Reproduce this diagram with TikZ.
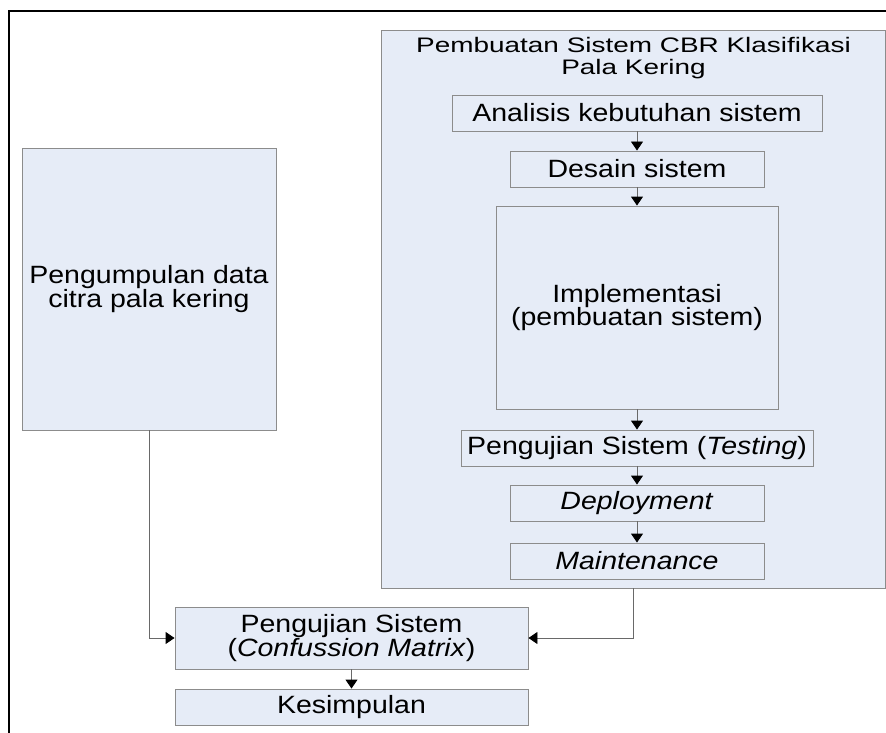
\documentclass[tikz,border=0pt]{standalone}
\usepackage{fontspec}
\setmainfont{Liberation Sans}[FakeStretch=1.14]
\newfontfamily\judulfont{Liberation Sans}[FakeStretch=1.33]
\usetikzlibrary{arrows.meta}
\definecolor{isi}{RGB}{230,236,247}
\definecolor{garis}{RGB}{140,140,140}
\definecolor{garispanah}{RGB}{105,105,105}

\begin{document}
\begin{tikzpicture}[x=1pt,y=-1pt,
        kotak/.style={draw=garis,fill=isi,line width=0.9pt,inner sep=0pt,align=center,
            font=\fontsize{25}{23.5}\selectfont},
        panah/.style={draw=garispanah,line width=0.9pt,
            -{Triangle[width=12pt,length=9pt,color=black]}}]
        \useasboundingbox (0,0) rectangle (886,733);
        % Frame
        \draw[line width=2.5pt] (9,733) -- (9,11) -- (886,11);
        % Pembuatan sistem CBR
        \node[kotak,minimum width=504pt,minimum height=558pt] (sistem) at (633,309) {};
        \node[font=\judulfont\fontsize{21}{22}\selectfont,align=center] (judul) at (633.5,58) {Pembuatan Sistem CBR Klasifikasi\\Pala Kering};
        \node[kotak,minimum width=370pt,minimum height=36pt] (analisis) at (637,113) {Analisis kebutuhan sistem};
        \node[kotak,minimum width=254pt,minimum height=36pt] (desain) at (637,169) {Desain sistem};
        \node[kotak,minimum width=282pt,minimum height=203pt] (implementasi) at (637,307.5) {Implementasi\\(pembuatan sistem)};
        \node[kotak,minimum width=352pt,minimum height=36pt] (testing) at (637,448) {Pengujian Sistem (\textit{Testing})};
        \node[kotak,minimum width=254pt,minimum height=36pt] (deploy) at (637,503) {\textit{Deployment}};
        \node[kotak,minimum width=254pt,minimum height=36pt] (maint) at (637,561) {\textit{Maintenance}};
        \draw[panah] (analisis) -- (desain);
        \draw[panah] (desain) -- (implementasi);
        \draw[panah] (implementasi) -- (testing);
        \draw[panah] (testing) -- (deploy);
        \draw[panah] (deploy) -- (maint);
        % Data citra
        \node[kotak,minimum width=254pt,minimum height=282pt] (kumpul) at (149,289) {Pengumpulan data\\citra pala kering};
        % Pengujian dan kesimpulan
        \node[kotak,minimum width=353pt,minimum height=62pt] (uji) at (351.5,638) {Pengujian Sistem\\(\textit{Confussion Matrix})};
        \node[kotak,minimum width=353pt,minimum height=36pt] (simpul) at (351.5,707) {Kesimpulan};
        \draw[panah] (kumpul.south) |- (uji.west);
        \draw[panah] (sistem.south) |- (uji.east);
        \draw[panah] (uji) -- (simpul);
\end{tikzpicture}
\end{document}
